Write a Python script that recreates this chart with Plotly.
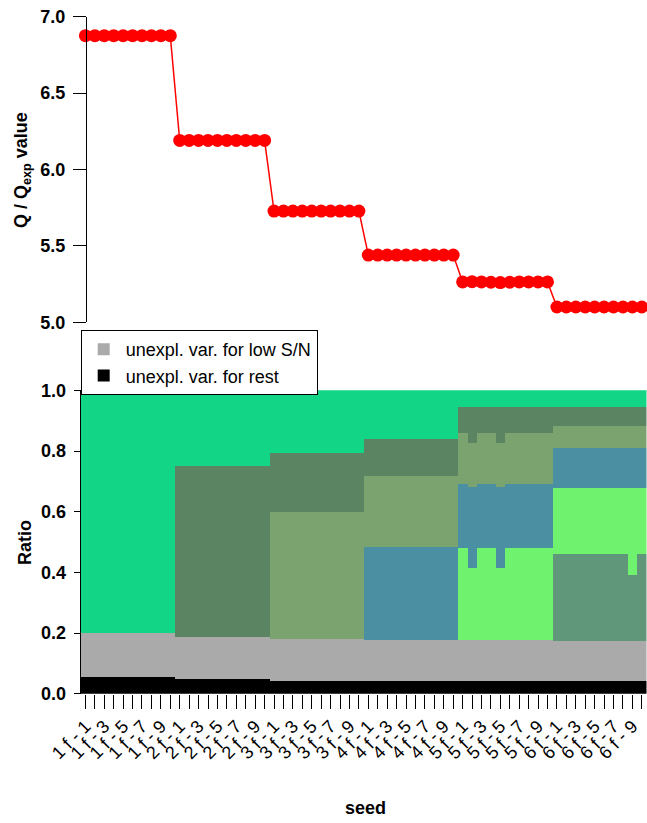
import plotly.graph_objects as go

# ---------------- data ----------------
seed_labels = [f"{g} f - {s}" for g in range(1, 7) for s in range(1, 11)]
tick_text = [lab if (i % 10) % 2 == 0 else "" for i, lab in enumerate(seed_labels)]

q_ratio = [6.876, 6.876, 6.876, 6.876, 6.876, 6.876, 6.876, 6.876, 6.876, 6.876,
           6.190, 6.190, 6.190, 6.190, 6.190, 6.190, 6.190, 6.190, 6.190, 6.190,
           5.728, 5.728, 5.728, 5.728, 5.728, 5.728, 5.728, 5.728, 5.728, 5.728,
           5.440, 5.440, 5.440, 5.440, 5.440, 5.440, 5.440, 5.440, 5.440, 5.440,
           5.264, 5.266, 5.264, 5.262, 5.260, 5.262, 5.264, 5.264, 5.264, 5.264,
           5.100, 5.100, 5.100, 5.100, 5.100, 5.100, 5.100, 5.100, 5.100, 5.100]

unexpl_rest = [
    0.053, 0.053, 0.053, 0.053, 0.053, 0.053, 0.053, 0.053, 0.053, 0.053,
    0.048, 0.048, 0.048, 0.048, 0.048, 0.048, 0.048, 0.048, 0.048, 0.048,
    0.042, 0.042, 0.042, 0.042, 0.042, 0.042, 0.042, 0.042, 0.042, 0.042,
    0.041, 0.041, 0.041, 0.041, 0.041, 0.041, 0.041, 0.041, 0.041, 0.041,
    0.040, 0.040, 0.040, 0.040, 0.040, 0.040, 0.040, 0.040, 0.040, 0.040,
    0.040, 0.040, 0.040, 0.040, 0.040, 0.040, 0.040, 0.040, 0.040, 0.040]
unexpl_low_sn = [
    0.146, 0.146, 0.146, 0.146, 0.146, 0.146, 0.146, 0.146, 0.146, 0.146,
    0.139, 0.139, 0.139, 0.139, 0.139, 0.139, 0.139, 0.139, 0.139, 0.139,
    0.139, 0.139, 0.139, 0.139, 0.139, 0.139, 0.139, 0.139, 0.139, 0.139,
    0.136, 0.136, 0.136, 0.136, 0.136, 0.136, 0.136, 0.136, 0.136, 0.136,
    0.135, 0.135, 0.135, 0.135, 0.135, 0.135, 0.135, 0.135, 0.135, 0.135,
    0.132, 0.132, 0.132, 0.132, 0.132, 0.132, 0.132, 0.132, 0.132, 0.132]
factor6 = [
    0, 0, 0, 0, 0, 0, 0, 0, 0, 0,
    0, 0, 0, 0, 0, 0, 0, 0, 0, 0,
    0, 0, 0, 0, 0, 0, 0, 0, 0, 0,
    0, 0, 0, 0, 0, 0, 0, 0, 0, 0,
    0, 0, 0, 0, 0, 0, 0, 0, 0, 0,
    0.289, 0.289, 0.289, 0.289, 0.289, 0.289, 0.289, 0.289, 0.218, 0.289]
factor5 = [
    0, 0, 0, 0, 0, 0, 0, 0, 0, 0,
    0, 0, 0, 0, 0, 0, 0, 0, 0, 0,
    0, 0, 0, 0, 0, 0, 0, 0, 0, 0,
    0, 0, 0, 0, 0, 0, 0, 0, 0, 0,
    0.303, 0.240, 0.303, 0.303, 0.240, 0.303, 0.303, 0.303, 0.303, 0.303,
    0.216, 0.216, 0.216, 0.216, 0.216, 0.216, 0.216, 0.216, 0.287, 0.216]
factor4 = [
    0, 0, 0, 0, 0, 0, 0, 0, 0, 0,
    0, 0, 0, 0, 0, 0, 0, 0, 0, 0,
    0, 0, 0, 0, 0, 0, 0, 0, 0, 0,
    0.306, 0.306, 0.306, 0.306, 0.306, 0.306, 0.306, 0.306, 0.306, 0.306,
    0.213, 0.265, 0.213, 0.213, 0.265, 0.213, 0.213, 0.213, 0.213, 0.213,
    0.132, 0.132, 0.132, 0.132, 0.132, 0.132, 0.132, 0.132, 0.132, 0.132]
factor3 = [
    0, 0, 0, 0, 0, 0, 0, 0, 0, 0,
    0, 0, 0, 0, 0, 0, 0, 0, 0, 0,
    0.417, 0.417, 0.417, 0.417, 0.417, 0.417, 0.417, 0.417, 0.417, 0.417,
    0.235, 0.235, 0.235, 0.235, 0.235, 0.235, 0.235, 0.235, 0.235, 0.235,
    0.167, 0.145, 0.167, 0.167, 0.145, 0.167, 0.167, 0.167, 0.167, 0.167,
    0.071, 0.071, 0.071, 0.071, 0.071, 0.071, 0.071, 0.071, 0.071, 0.071]
factor2 = [
    0, 0, 0, 0, 0, 0, 0, 0, 0, 0,
    0.564, 0.564, 0.564, 0.564, 0.564, 0.564, 0.564, 0.564, 0.564, 0.564,
    0.196, 0.196, 0.196, 0.196, 0.196, 0.196, 0.196, 0.196, 0.196, 0.196,
    0.121, 0.121, 0.121, 0.121, 0.121, 0.121, 0.121, 0.121, 0.121, 0.121,
    0.086, 0.119, 0.086, 0.086, 0.119, 0.086, 0.086, 0.086, 0.086, 0.086,
    0.063, 0.063, 0.063, 0.063, 0.063, 0.063, 0.063, 0.063, 0.063, 0.063]
factor1 = [
    0.801, 0.801, 0.801, 0.801, 0.801, 0.801, 0.801, 0.801, 0.801, 0.801,
    0.249, 0.249, 0.249, 0.249, 0.249, 0.249, 0.249, 0.249, 0.249, 0.249,
    0.206, 0.206, 0.206, 0.206, 0.206, 0.206, 0.206, 0.206, 0.206, 0.206,
    0.161, 0.161, 0.161, 0.161, 0.161, 0.161, 0.161, 0.161, 0.161, 0.161,
    0.056, 0.056, 0.056, 0.056, 0.056, 0.056, 0.056, 0.056, 0.056, 0.056,
    0.057, 0.057, 0.057, 0.057, 0.057, 0.057, 0.057, 0.057, 0.057, 0.057]

x_pos = list(range(1, 61))

# ---------------- figure ----------------
W, H = 647, 823
FONT = "Liberation Sans, Arial, Helvetica, sans-serif"


def px_x(p):
    return p / W


def px_y(p):
    return (H - p) / H


fig = go.Figure()

layers = [
    ("unexpl. var. for rest", unexpl_rest, "#000000", True, 2),
    ("unexpl. var. for low S/N", unexpl_low_sn, "#AAAAAA", True, 1),
    ("factor 6", factor6, "#60977B", False, 10),
    ("factor 5", factor5, "#6FF26D", False, 10),
    ("factor 4", factor4, "#4A8FA2", False, 10),
    ("factor 3", factor3, "#7BA370", False, 10),
    ("factor 2", factor2, "#5B8462", False, 10),
    ("factor 1", factor1, "#12D585", False, 10),
]
for name, vals, col, show, rank in layers:
    fig.add_trace(go.Bar(
        x=x_pos, y=vals, name=name, marker=dict(color=col, line=dict(width=0)),
        showlegend=show, legendrank=rank, xaxis="x", yaxis="y",
    ))

fig.add_trace(go.Scatter(
    x=x_pos, y=q_ratio, mode="lines+markers", showlegend=False,
    line=dict(color="#FF0000", width=1.5),
    marker=dict(color="#FF0000", size=13),
    xaxis="x2", yaxis="y2", cliponaxis=False,
))

x_dom = [px_x(80.7), px_x(646.5)]

fig.update_layout(
    width=W, height=H,
    margin=dict(l=0, r=0, t=0, b=0, autoexpand=False),
    paper_bgcolor="white", plot_bgcolor="white",
    barmode="stack", bargap=0,
    font=dict(family=FONT, color="black"),
    xaxis=dict(
        domain=x_dom, range=[0.5, 60.5], anchor="y",
        tickmode="array", tickvals=x_pos, ticktext=tick_text,
        tickangle=-45, ticks="outside", ticklen=14, tickwidth=1, tickcolor="black",
        tickfont=dict(family=FONT, size=18, color="black"),
        showline=False, showgrid=False, zeroline=False, automargin=False,
    ),
    yaxis=dict(
        domain=[px_y(693.8), px_y(390.3)], range=[0, 1], anchor="x",
        tickmode="array", tickvals=[0, 0.2, 0.4, 0.6, 0.8, 1.0],
        ticktext=["0.0", "0.2", "0.4", "0.6", "0.8", "1.0"],
        ticks="outside", ticklen=6, tickwidth=1, tickcolor="black",
        ticklabelstandoff=4,
        tickfont=dict(family=FONT, size=18, color="black", weight="bold"),
        showline=True, linecolor="black", linewidth=1,
        showgrid=False, zeroline=False, automargin=False,
    ),
    xaxis2=dict(
        domain=x_dom, range=[0.5, 60.5], anchor="y2", visible=False,
        showgrid=False, zeroline=False,
    ),
    yaxis2=dict(
        domain=[px_y(322.3), px_y(16.7)], range=[5, 7],
        anchor="free", position=px_x(86),
        tickmode="array", tickvals=[5.0, 5.5, 6.0, 6.5, 7.0],
        ticktext=["5.0", "5.5", "6.0", "6.5", "7.0"],
        ticks="outside", ticklen=13, tickwidth=1, tickcolor="black",
        ticklabelstandoff=4,
        tickfont=dict(family=FONT, size=18, color="black", weight="bold"),
        showline=True, linecolor="black", linewidth=1,
        showgrid=False, zeroline=False, automargin=False,
    ),
    legend=dict(
        x=px_x(80.7), y=px_y(330), xanchor="left", yanchor="top",
        bgcolor="white", bordercolor="black", borderwidth=1,
        font=dict(family=FONT, size=18, color="black"),
        traceorder="normal", tracegroupgap=0, itemwidth=34,
    ),
    annotations=[
        dict(text="Q / Q<sub>exp</sub> value", x=px_x(22), y=px_y(170),
             xref="paper", yref="paper", textangle=-90, showarrow=False,
             xanchor="center", yanchor="middle",
             font=dict(family=FONT, size=18, color="black", weight="bold")),
        dict(text="Ratio", x=px_x(25), y=px_y(543),
             xref="paper", yref="paper", textangle=-90, showarrow=False,
             xanchor="center", yanchor="middle",
             font=dict(family=FONT, size=18, color="black", weight="bold")),
        dict(text="seed", x=px_x(365), y=px_y(808),
             xref="paper", yref="paper", showarrow=False,
             xanchor="center", yanchor="middle",
             font=dict(family=FONT, size=18, color="black", weight="bold")),
    ],
)

fig.write_html(
    "out.html",
    config={"displayModeBar": False},
    post_script="document.body.style.margin='0px';document.body.style.padding='0px';"
                "document.body.style.overflow='hidden';",
)
